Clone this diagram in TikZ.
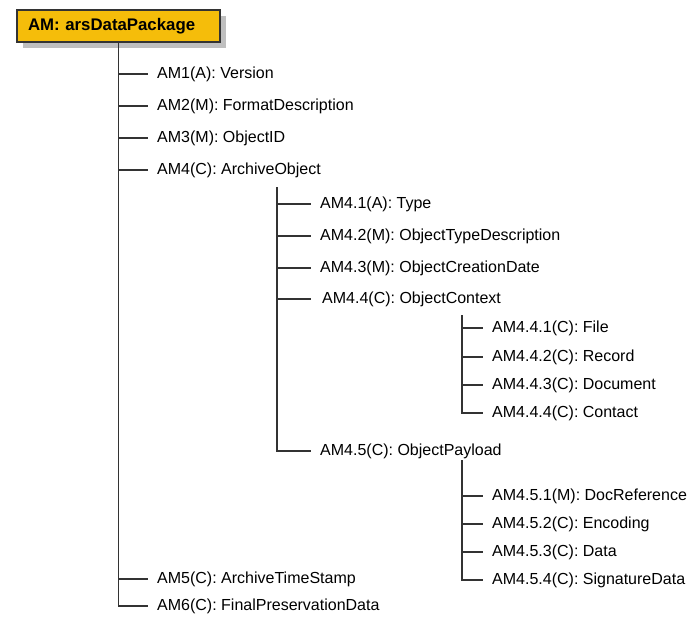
\documentclass[tikz,border=0pt]{standalone}
\usepackage{fontspec}
\setmainfont{Liberation Sans}
\usetikzlibrary{shadows}
\definecolor{boxyellow}{HTML}{F5BD0A}
\definecolor{treeline}{HTML}{333333}

\begin{document}
\begin{tikzpicture}[x=1pt,y=-1pt,
	item/.style={anchor=west,inner xsep=9pt,inner ysep=2pt,text=black,font=\fontsize{16}{19}\selectfont},
	rootbox/.style={draw=black!80,line width=1.4pt,fill=boxyellow,minimum height=32pt,text width=181pt,inner xsep=11pt,align=left,font=\fontsize{16.8}{19}\selectfont\bfseries,drop shadow={shadow xshift=6pt,shadow yshift=-6pt,fill=black!25,opacity=1}},
	branch/.style={draw=treeline,line width=1.9pt}]
		\useasboundingbox (0,0) rectangle (695,630);
		
		\node[rootbox] (am) at (118.5,26) {AM: arsDataPackage};
		\node[item] (am1) at (148,74) {AM1(A): Version};
		\node[item] (am2) at (148,106) {AM2(M): FormatDescription};
		\node[item] (am3) at (148,138) {AM3(M): ObjectID};
		\node[item] (am4) at (148,170) {AM4(C): ArchiveObject};
		\node[item] (am5) at (148,579) {AM5(C): ArchiveTimeStamp};
		\node[item] (am6) at (148,606) {AM6(C): FinalPreservationData};
		
		\node[item] (am41) at (311,204) {AM4.1(A): Type};
		\node[item] (am42) at (311,236) {AM4.2(M): ObjectTypeDescription};
		\node[item] (am43) at (311,268) {AM4.3(M): ObjectCreationDate};
		\node[item] (am44) at (313,299) {AM4.4(C): ObjectContext};
		\node[item] (am45) at (311,451) {AM4.5(C): ObjectPayload};
		
		\node[item] (am441) at (483,328) {AM4.4.1(C): File};
		\node[item] (am442) at (483,357) {AM4.4.2(C): Record};
		\node[item] (am443) at (483,385) {AM4.4.3(C): Document};
		\node[item] (am444) at (483,413) {AM4.4.4(C): Contact};
		
		\node[item] (am451) at (483,496) {AM4.5.1(M): DocReference};
		\node[item] (am452) at (483,524) {AM4.5.2(C): Encoding};
		\node[item] (am453) at (483,552) {AM4.5.3(C): Data};
		\node[item] (am454) at (483,580) {AM4.5.4(C): SignatureData};
		
		\coordinate (am4t) at (277,187);
		\coordinate (am44t) at (462,315);
		\coordinate (am45t) at (462,460);
		
		% tree lines
		\draw[branch] (am.south) |- (am6.west);
		\foreach \n in {am1,am2,am3,am4,am5}
			\draw[branch] (am.south |- \n.west) -- (\n.west);
		\draw[branch] (am4t) |- (am45.west);
		\foreach \n in {am41,am42,am43}
			\draw[branch] (am4t |- \n.west) -- (\n.west);
		\draw[branch] (am4t |- am44.west) -- ([xshift=-2pt]am44.west);
		\draw[branch] (am44t) |- (am444.west);
		\foreach \n in {am441,am442,am443}
			\draw[branch] (am44t |- \n.west) -- (\n.west);
		\draw[branch] (am45t) |- (am454.west);
		\foreach \n in {am451,am452,am453}
			\draw[branch] (am45t |- \n.west) -- (\n.west);
	\end{tikzpicture}
\end{document}
